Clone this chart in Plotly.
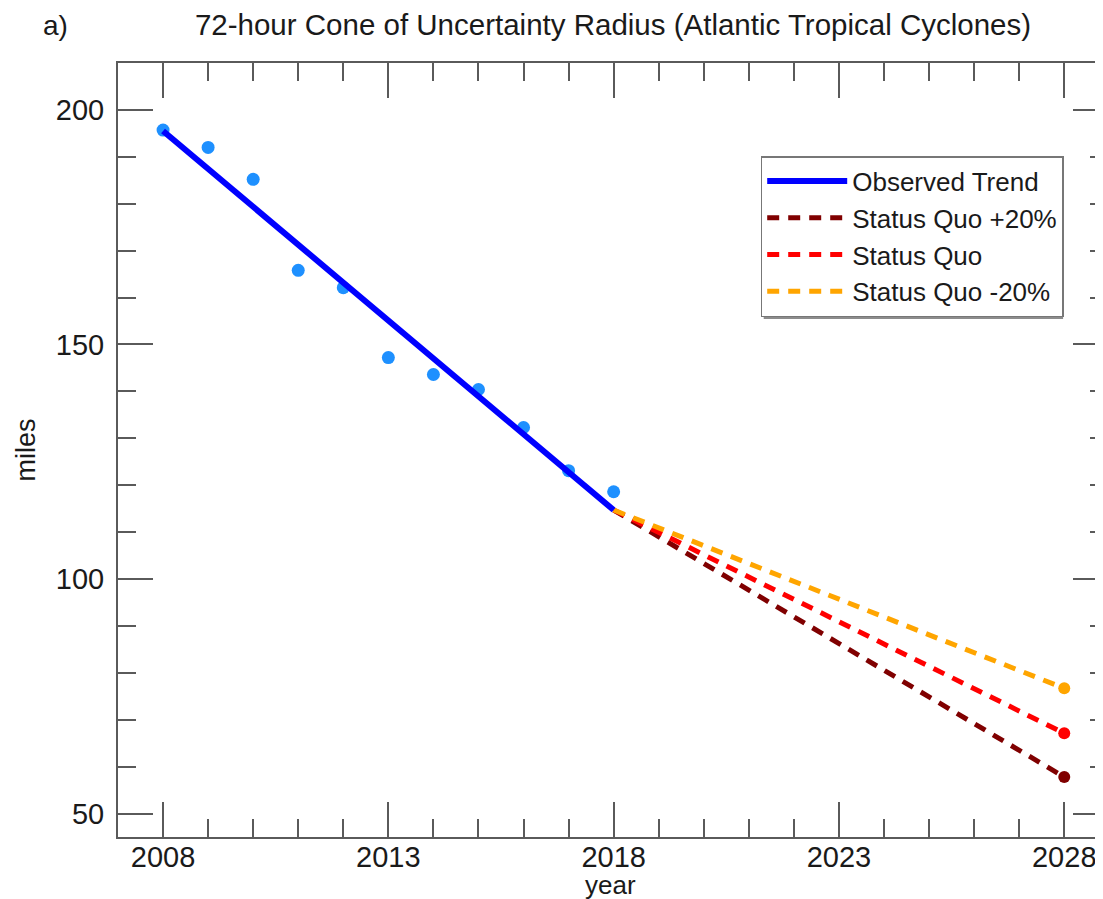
import plotly.graph_objects as go

# Observed annual 72-h cone radius (miles)
obs_years = [2008, 2009, 2010, 2011, 2012, 2013, 2014, 2015, 2016, 2017, 2018]
obs_miles = [195.7, 192.0, 185.2, 165.8, 162.1, 147.2, 143.6, 140.4, 132.3, 123.1, 118.6]

# Observed linear trend (endpoints)
trend_years = [2008, 2018]
trend_miles = [195.5, 114.7]

# Projections 2018 -> 2028
proj_years = [2018, 2028]
sq_plus20 = [114.7, 57.8]
sq = [114.7, 67.1]
sq_minus20 = [114.7, 76.7]

x_ticks = [2008, 2013, 2018, 2023, 2028]
y_ticks = [50, 100, 150, 200]

FONT = "Liberation Sans, Arial, Helvetica, sans-serif"
AX = "#5a5a5a"
TXT = "#1a1a1a"

fig = go.Figure()

fig.add_trace(go.Scatter(x=obs_years, y=obs_miles, mode="markers",
                         marker=dict(color="#1E90FF", size=13),
                         showlegend=False, hoverinfo="x+y"))

proj = [("Status Quo +20%", sq_plus20, "#800000", 2),
        ("Status Quo", sq, "#FF0000", 3),
        ("Status Quo -20%", sq_minus20, "#FFA500", 4)]
for name, vals, col, rank in proj:
    fig.add_trace(go.Scatter(x=proj_years, y=vals, mode="lines", name=name,
                             line=dict(color=col, width=5, dash="12px,9px"),
                             legendrank=rank))
    fig.add_trace(go.Scatter(x=proj_years[-1:], y=vals[-1:], mode="markers",
                             marker=dict(color=col, size=12),
                             showlegend=False))

fig.add_trace(go.Scatter(x=trend_years, y=trend_miles, mode="lines",
                         name="Observed Trend",
                         line=dict(color="#0000FF", width=6), legendrank=1))

PW = 992  # plot-area width in px (paper x units)
PH = 774  # plot-area height in px

fig.update_layout(
    width=1103, height=899,
    margin=dict(l=110, r=1, t=55, b=70),
    plot_bgcolor="white", paper_bgcolor="white",
    font=dict(family=FONT, size=28, color=TXT),
    title=dict(text="72-hour Cone of Uncertainty Radius (Atlantic Tropical Cyclones)",
               x=0.5, xref="paper", xanchor="center",
               y=1 - 17 / 899, yref="container", yanchor="middle",
               font=dict(size=29.5, family=FONT, color=TXT), automargin=False),
    legend=dict(x=(762 - 118) / PW, y=(837 - 156) / PH,
                xanchor="left", yanchor="top",
                bordercolor="#777777", borderwidth=1.5, bgcolor="white",
                font=dict(size=26, family=FONT, color=TXT), tracegroupgap=0,
                itemwidth=80),
    showlegend=True,
)

# legend drop shadow (decoration)
fig.add_shape(type="rect", xref="paper", yref="paper",
              x0=(765 - 118) / PW, x1=(1065 - 118) / PW,
              y0=(837 - 319) / PH, y1=(837 - 160) / PH,
              fillcolor="#8c8c8c", line=dict(width=0), layer="above")

fig.update_xaxes(range=[2007, 2007 + PW / 45.15], tickvals=x_ticks, ticks="inside",
                 ticklen=35, tickwidth=2, tickcolor=AX,
                 showline=True, linecolor=AX, linewidth=2, mirror="ticks",
                 showgrid=False, zeroline=False, automargin=False,
                 tickfont=dict(size=29), ticklabelstandoff=-7,
                 minor=dict(dtick=1, tick0=2008, ticks="inside", ticklen=18,
                            tickwidth=2, tickcolor=AX, showgrid=False))
fig.update_yaxes(range=[45, 210], tickvals=y_ticks, ticks="inside",
                 ticklen=35, tickwidth=2, tickcolor=AX,
                 showline=True, linecolor=AX, linewidth=2, mirror="ticks",
                 showgrid=False, zeroline=False, automargin=True,
                 tickfont=dict(size=29), ticklabelstandoff=6,
                 minor=dict(dtick=10, tick0=50, ticks="inside", ticklen=18,
                            tickwidth=2, tickcolor=AX, showgrid=False),
                 title=dict(text="miles", standoff=12, font=dict(size=27)))

fig.add_annotation(text="year", xref="paper", yref="paper",
                   x=(611 - 118) / PW, y=-(885 - 837) / PH,
                   xanchor="center", yanchor="middle", showarrow=False,
                   font=dict(size=26, family=FONT, color=TXT))

fig.add_annotation(text="a)", xref="paper", yref="paper",
                   x=(55 - 118) / PW, y=1 + (63 - 25) / PH,
                   xanchor="center", yanchor="middle", showarrow=False,
                   font=dict(size=28, family=FONT, color=TXT))

fig.write_html("out.html")
